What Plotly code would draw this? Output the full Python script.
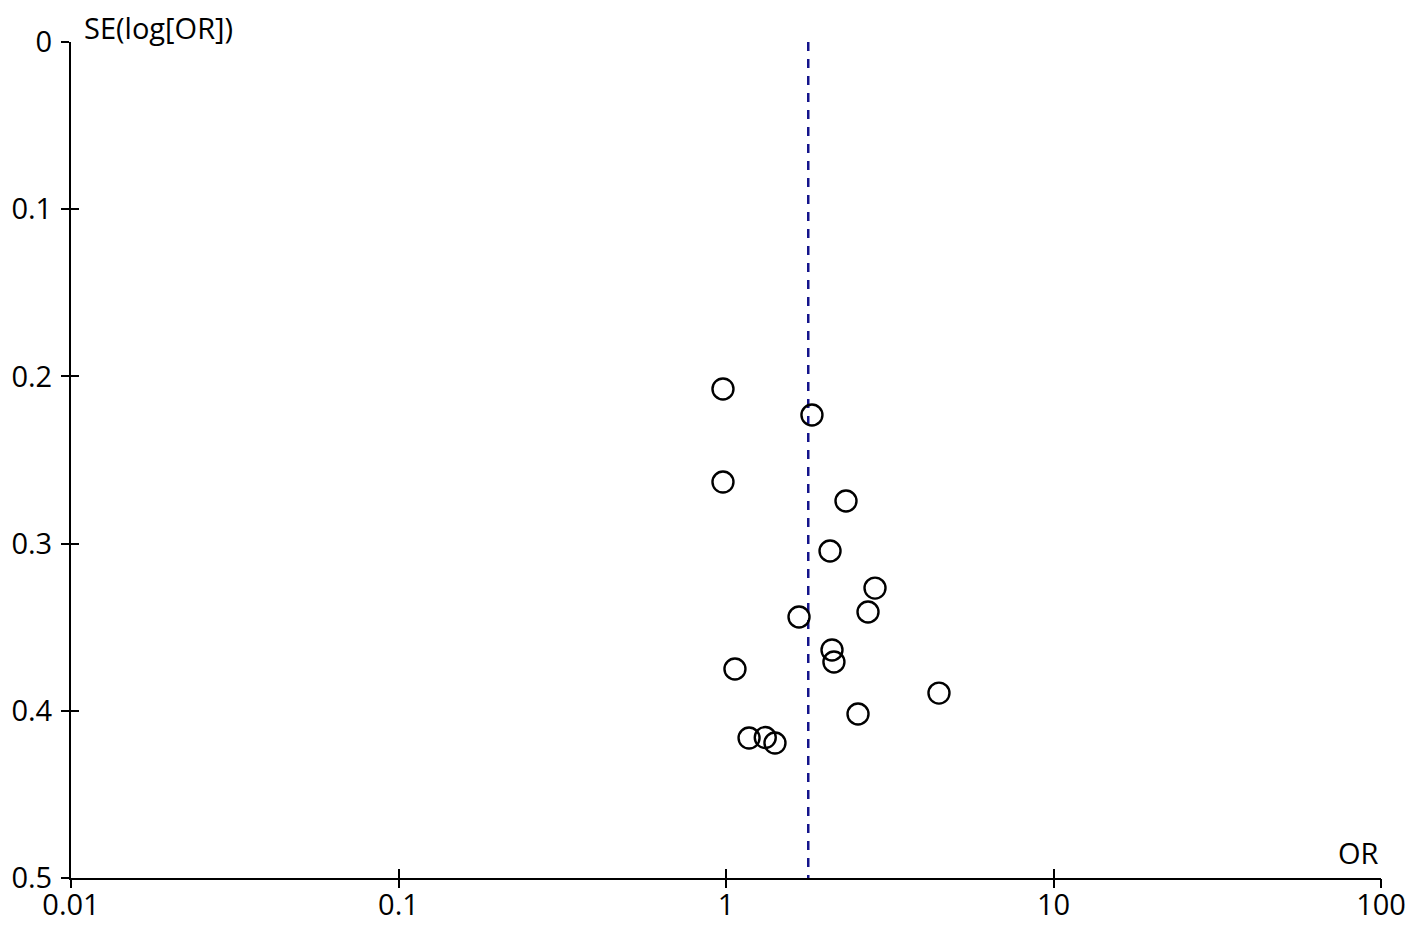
import plotly.graph_objects as go

# Study data
odds_ratio = [0.979, 1.83, 0.979, 2.325, 2.078, 2.851, 2.714, 1.671,
              2.107, 2.136, 1.065, 4.47, 2.53, 1.176, 1.318, 1.411]
se_log_or = [0.2075, 0.2231, 0.2632, 0.2745, 0.3044, 0.3266, 0.3409, 0.3439,
             0.3636, 0.3708, 0.375, 0.3894, 0.4019, 0.4163, 0.4160, 0.4193]
pooled_or = 1.783
pooled_line_y = [0, 0.5]
x_tick_vals = [0.01, 0.1, 1, 10, 100]
x_tick_text = ["0.01", "0.1", "1", "10", "100"]
y_tick_vals = [0, 0.1, 0.2, 0.3, 0.4, 0.5]
y_tick_text = ["0", "0.1", "0.2", "0.3", "0.4", "0.5"]

FONT = "Open Sans"
FS = 29

fig = go.Figure()
fig.add_trace(go.Scatter(
    x=[pooled_or, pooled_or], y=pooled_line_y, mode="lines",
    line=dict(color="#14148c", width=2.5, dash="9px,8px"),
    showlegend=False, hoverinfo="skip", cliponaxis=False))
fig.add_trace(go.Scatter(
    x=odds_ratio, y=se_log_or, mode="markers",
    marker=dict(symbol="circle-open", size=21, color="black", line=dict(width=2.4, color="black")),
    showlegend=False))

# the page body adds an 8px offset, so the figure is sized to the remaining viewport
fig.update_layout(
    width=1410, height=917,
    margin=dict(l=63, r=37, t=34, b=47, autoexpand=False),
    paper_bgcolor="white", plot_bgcolor="white",
    font=dict(family=FONT, size=FS, color="black"),
    xaxis=dict(type="log", range=[-2, 2], tickvals=x_tick_vals, ticktext=x_tick_text,
               showgrid=False, zeroline=False, showline=True, linecolor="black", linewidth=2,
               ticks="inside", ticklen=9, tickwidth=2, tickcolor="black", automargin=False,
               tickfont=dict(family=FONT, size=FS)),
    yaxis=dict(range=[0.5, 0], tickvals=y_tick_vals, ticktext=y_tick_text,
               showgrid=False, zeroline=False, showline=True, linecolor="black", linewidth=2,
               ticks="outside", ticklen=8, tickwidth=2, tickcolor="black", automargin=False,
               ticklabelstandoff=3, tickfont=dict(family=FONT, size=FS)),
    xaxis2=dict(type="log", range=[-2, 2], overlaying="x", tickvals=x_tick_vals,
                showticklabels=False, showgrid=False, zeroline=False, showline=False,
                ticks="outside", ticklen=9, tickwidth=2, tickcolor="black", side="bottom",
                automargin=False),
    yaxis2=dict(range=[0.5, 0], overlaying="y", tickvals=y_tick_vals,
                showticklabels=False, showgrid=False, zeroline=False, showline=False,
                ticks="inside", ticklen=8, tickwidth=2, tickcolor="black", side="left",
                automargin=False),
    annotations=[
        dict(text="SE(log[OR])", xref="paper", yref="paper", x=0, y=1, xshift=12, yshift=-6,
             xanchor="left", yanchor="bottom", showarrow=False, borderpad=0,
             font=dict(family=FONT, size=FS)),
        dict(text="OR", xref="paper", yref="paper", x=1, y=0, yshift=4,
             xanchor="right", yanchor="bottom", showarrow=False, font=dict(family=FONT, size=FS)),
    ],
)
# invisible trace to activate overlay axes (gives ticks that cross the axis lines)
fig.add_trace(go.Scatter(x=[1], y=[0.25], xaxis="x2", yaxis="y2", mode="markers",
                         marker=dict(opacity=0), showlegend=False, hoverinfo="skip"))

fig.write_html("out.html")
